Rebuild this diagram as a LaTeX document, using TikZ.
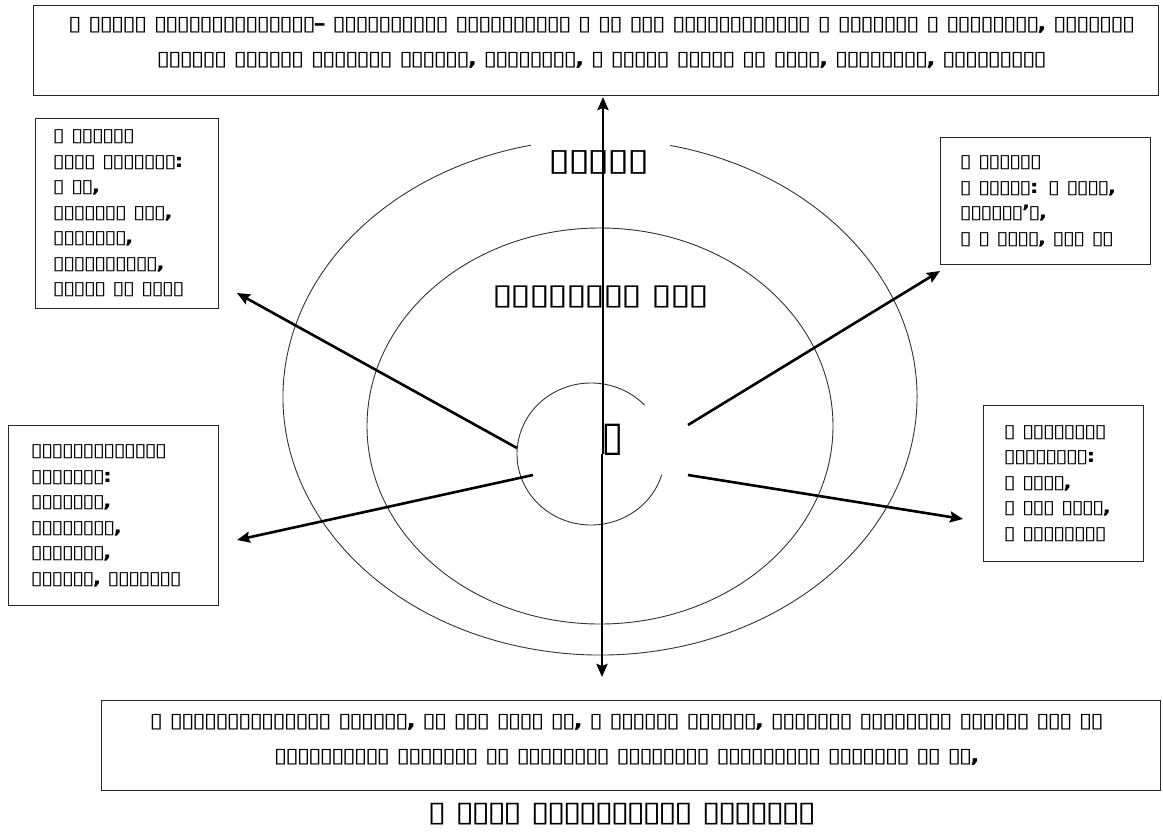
\documentclass[tikz,border=0pt]{standalone}
\usepackage{fontspec}
\setmainfont{DejaVu Sans}
\newfontfamily\tofu{DejaVu Sans}
\newfontfamily\tofubox[FakeStretch=1.2,LetterSpace=-10]{DejaVu Sans}
\newfontfamily\tofuring[FakeStretch=1.3,LetterSpace=-8]{DejaVu Sans}
\usetikzlibrary{arrows.meta}
\begin{document}
\begin{tikzpicture}[x=1pt,y=-1pt,
  box/.style={draw=black!85, line width=1.3pt},
  ring/.style={draw=black!80, line width=0.9pt},
  arr/.style={line width=2.6pt, -{Stealth[length=13pt,width=11pt,inset=2pt]}},
  sidebox/.style={box, anchor=north west, align=left, font=\tofubox\bfseries\fontsize{18.5}{25.5}\selectfont},
  wide/.style={font=\tofubox\bfseries\fontsize{20.4}{35}\selectfont, align=center, inner sep=0pt},
  ringlabel/.style={font=\tofuring\fontsize{31}{31}\selectfont, inner sep=0pt}
]
\useasboundingbox (0,0) rectangle (1163,838);

% rings
\draw[ring] (600,397) ++(282.8:317 and 258) arc[start angle=282.8,end angle=617.4,x radius=317,y radius=258];
\draw[ring] (600,426) ellipse[x radius=233,y radius=198];
\draw[ring] (591,454) ++(16.9:74 and 71) arc[start angle=16.9,end angle=316.5,x radius=74,y radius=71];

% ring labels
\node[ringlabel] (exo) at (599,162) {▯▯▯▯▯};
\node[ringlabel, font=\tofuring\fontsize{29}{29}\selectfont] (meso) at (601,297) {▯▯▯▯▯▯▯▯ ▯▯▯};
\node[ringlabel, font=\tofu\fontsize{41}{41}\selectfont] (self) at (613,440) {▯};

% top box
\node[box, anchor=north west, minimum width=1125pt, minimum height=90pt] (topb) at (33,5) {};
\node[wide] (topt) at (602,43) {▯ ▯▯▯▯▯ ▯▯▯▯▯▯▯▯▯▯▯▯▯▯– ▯▯▯▯▯▯▯▯▯▯ ▯▯▯▯▯▯▯▯▯▯ ▯ ▯▯ ▯▯▯ ▯▯▯▯▯▯▯▯▯▯▯▯ ▯ ▯▯▯▯▯▯▯ ▯ ▯▯▯▯▯▯▯▯, ▯▯▯▯▯▯▯\\▯▯▯▯▯▯ ▯▯▯▯▯▯ ▯▯▯▯▯▯▯ ▯▯▯▯▯▯, ▯▯▯▯▯▯▯▯, ▯ ▯▯▯▯▯ ▯▯▯▯▯ ▯▯ ▯▯▯▯, ▯▯▯▯▯▯▯▯, ▯▯▯▯▯▯▯▯▯};

% side boxes
\node[sidebox, minimum width=183pt, minimum height=190pt, inner xsep=17pt, text width=149pt] (ul) at (35,118)
 {▯ ▯▯▯▯▯▯\\▯▯▯▯ ▯▯▯▯▯▯▯:\\▯ ▯▯,\\▯▯▯▯▯▯▯ ▯▯▯,\\▯▯▯▯▯▯▯,\\▯▯▯▯▯▯▯▯▯▯,\\▯▯▯▯▯ ▯▯ ▯▯▯▯};
\node[sidebox, minimum width=210pt, minimum height=127pt, inner xsep=19pt, text width=172pt] (ur) at (940,137)
 {▯ ▯▯▯▯▯▯\\▯ ▯▯▯▯▯: ▯ ▯▯▯▯,\\▯▯▯▯▯▯’▯,\\▯ ▯ ▯▯▯▯, ▯▯▯ ▯▯};
\node[sidebox, minimum width=210pt, minimum height=180pt, inner xsep=22pt, text width=166pt] (ll) at (8,425)
 {▯▯▯▯▯▯▯▯▯▯▯▯▯\\▯▯▯▯▯▯▯:\\▯▯▯▯▯▯▯,\\▯▯▯▯▯▯▯▯,\\▯▯▯▯▯▯▯,\\▯▯▯▯▯▯, ▯▯▯▯▯▯▯};
\node[sidebox, minimum width=160pt, minimum height=156pt, inner xsep=20pt, text width=120pt] (lr) at (983,405)
 {▯ ▯▯▯▯▯▯▯▯\\▯▯▯▯▯▯▯▯:\\▯ ▯▯▯▯,\\▯ ▯▯▯ ▯▯▯▯,\\▯ ▯▯▯▯▯▯▯▯};

% bottom box and caption
\node[box, anchor=north west, minimum width=1059pt, minimum height=90pt] (botb) at (101,700) {};
\node[wide] (bott) at (627,740)
 {▯ ▯▯▯▯▯▯▯▯▯▯▯▯▯▯ ▯▯▯▯▯▯, ▯▯ ▯▯▯ ▯▯▯▯ ▯▯, ▯ ▯▯▯▯▯▯ ▯▯▯▯▯▯, ▯▯▯▯▯▯▯ ▯▯▯▯▯▯▯▯ ▯▯▯▯▯▯ ▯▯▯ ▯▯\\▯▯▯▯▯▯▯▯▯▯ ▯▯▯▯▯▯▯ ▯▯ ▯▯▯▯▯▯▯▯ ▯▯▯▯▯▯▯▯ ▯▯▯▯▯▯▯▯▯ ▯▯▯▯▯▯▯ ▯▯ ▯▯,};
\node[font=\tofubox\bfseries\fontsize{28.4}{28.4}\selectfont, inner sep=0pt] (cap) at (622,814) {▯ ▯▯▯▯ ▯▯▯▯▯▯▯▯▯▯ ▯▯▯▯▯▯▯};

% arrow coordinates
\coordinate (cUp) at (603,454);
\coordinate (cDn) at (602,454);
\coordinate (tUp) at (603,97);
\coordinate (tDn) at (602,677);
\coordinate (sUL) at (517,448);
\coordinate (eUL) at (237,293);
\coordinate (sLL) at (533,475);
\coordinate (eLL) at (237,540);
\coordinate (sUR) at (688,425);
\coordinate (eUR) at (940,271);
\coordinate (sLR) at (688,475);
\coordinate (eLR) at (963,519);

\draw[arr] (cUp) -- (tUp);
\draw[arr] (cDn) -- (tDn);
\draw[arr] (sUL) -- (eUL);
\draw[arr] (sLL) -- (eLL);
\draw[arr] (sUR) -- (eUR);
\draw[arr] (sLR) -- (eLR);
\end{tikzpicture}
\end{document}
